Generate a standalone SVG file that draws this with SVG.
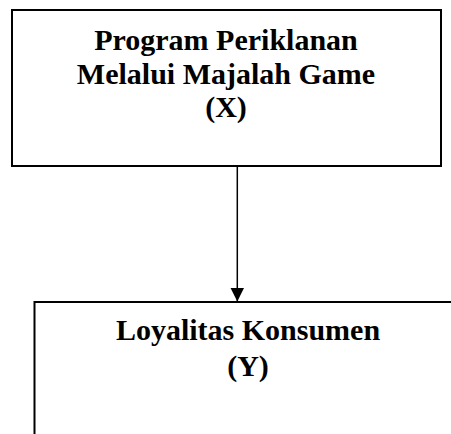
<svg xmlns="http://www.w3.org/2000/svg" width="451" height="434" viewBox="0 0 451 434">
<style>
.box{fill:#fff;stroke:#000;stroke-width:2}
.t{font-family:"Liberation Serif","Times New Roman",serif;font-weight:bold;font-size:30px;fill:#000;text-anchor:middle}
.c{stroke:#000;stroke-width:1.5;fill:none}
</style>
<defs>
<marker id="ah" markerUnits="userSpaceOnUse" markerWidth="14" markerHeight="14" viewBox="0 0 14 14" refX="14" refY="7" orient="auto">
<path d="M0,0 L14,7 L0,14 Z" fill="#000"/>
</marker>
</defs>
<rect width="451" height="434" fill="#fff"/>
<g id="nodeX">
<rect class="box" x="12" y="10" width="429" height="156"/>
<text class="t" x="226" y="50">Program Periklanan</text>
<text class="t" x="226" y="84">Melalui Majalah Game</text>
<text class="t" x="226" y="117">(X)</text>
</g>
<g id="nodeY">
<rect class="box" x="34.5" y="302" width="427" height="200"/>
<text class="t" x="248" y="340">Loyalitas Konsumen</text>
<text class="t" x="248" y="376">(Y)</text>
</g>
<g id="connectors">
<line class="c" x1="237.3" y1="167" x2="237.3" y2="301.5" marker-end="url(#ah)"/>
</g>
</svg>
